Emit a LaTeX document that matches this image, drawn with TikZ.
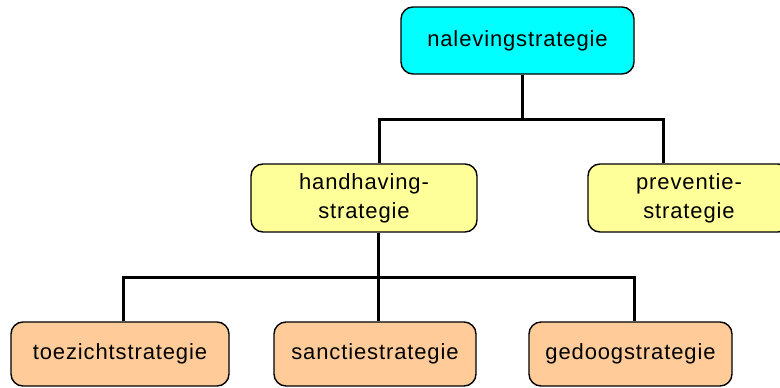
\documentclass[tikz,border=0pt]{standalone}
\usepackage{fontspec}
\newfontfamily\boxfont{Liberation Sans}[LetterSpace=4]
\definecolor{nalcyan}{RGB}{0,255,255}
\definecolor{strayellow}{RGB}{255,255,153}
\definecolor{subpeach}{RGB}{255,204,153}
\begin{document}
\begin{tikzpicture}[x=1pt,y=-1pt,
    stratbox/.style={draw, line width=1.4pt, rounded corners=12pt, align=center,
        inner sep=0pt, font=\boxfont\fontsize{22}{29}\selectfont},
    conn/.style={line width=3pt}]
    \clip (0,0) rectangle (780,388);
    % top
    \node[stratbox, fill=nalcyan, minimum width=233pt, minimum height=67pt] (nal) at (517.5,40.5) {nalevingstrategie};
    % middle
    \node[stratbox, fill=strayellow, minimum width=226pt, minimum height=68pt] (hand) at (364,198) {handhaving-\\strategie};
    \node[stratbox, fill=strayellow, minimum width=202pt, minimum height=68pt] (prev) at (689,198) {preventie-\\strategie};
    % bottom
    \node[stratbox, fill=subpeach, minimum width=218pt, minimum height=64pt] (toez) at (120,354) {toezichtstrategie};
    \node[stratbox, fill=subpeach, minimum width=202pt, minimum height=64pt] (sanc) at (375,354) {sanctiestrategie};
    \node[stratbox, fill=subpeach, minimum width=203pt, minimum height=64pt] (gedo) at (630.5,354) {gedoogstrategie};
    % junctions
    \coordinate (j1) at (522,119);
    \coordinate (j1l) at (379,119);
    \coordinate (j1r) at (663,119);
    \coordinate (j2) at (378,277);
    \coordinate (j2l) at (123,277);
    \coordinate (j2r) at (634,277);
    \draw[conn] (j1 |- nal.south) -- (j1);
    \draw[conn] (j1l |- hand.north) -- (j1l) -- (j1r) -- (j1r |- prev.north);
    \draw[conn] (j2 |- hand.south) -- (j2 |- sanc.north);
    \draw[conn] (j2l |- toez.north) -- (j2l) -- (j2r) -- (j2r |- gedo.north);
\end{tikzpicture}
\end{document}
